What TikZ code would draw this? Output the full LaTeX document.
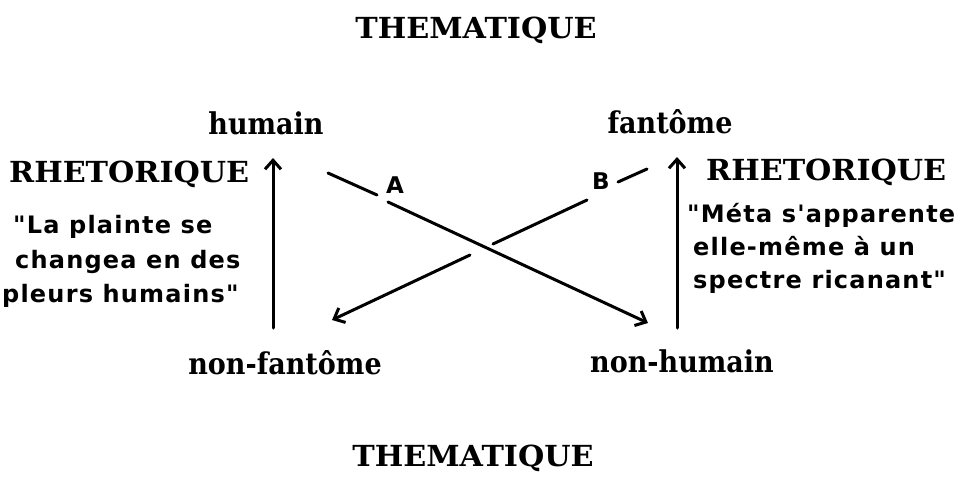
\documentclass[tikz,border=0pt]{standalone}
\usepackage{fontspec}
\setmainfont{DejaVu Serif}
\newfontfamily\capsfont[FakeStretch=1.04]{DejaVu Serif Bold}
\newfontfamily\lowfont[FakeStretch=0.9]{DejaVu Serif Bold}
\newfontfamily\quotefont[LetterSpace=5]{DejaVu Sans Bold}
\usetikzlibrary{arrows.meta,calc}
\begin{document}
\begin{tikzpicture}[x=1pt,y=-1pt,
  titletxt/.style={font=\capsfont\fontsize{29}{34}\selectfont, inner sep=0pt, anchor=base},
  poletxt/.style={font=\lowfont\fontsize{30}{34}\selectfont, inner sep=0pt, anchor=base},
  quotetxt/.style={font=\quotefont\fontsize{24}{30}\selectfont, inner sep=0pt, anchor=base west},
  lettertxt/.style={font=\quotefont\fontsize{23}{30}\selectfont, inner sep=0pt},
  conn/.style={line width=3pt, line cap=round},
  arr/.style={conn, -{Straight Barb[length=9pt,width=16pt,line width=3pt]}},
]
\useasboundingbox (0,0) rectangle (963,477);
% titles
\node[titletxt] (t1) at (476,38) {THEMATIQUE};
\node[titletxt] (t2) at (473,466) {THEMATIQUE};
% poles
\node[poletxt] (hum) at (266,134) {humain};
\node[poletxt] (fan) at (670,133) {fantôme};
\node[poletxt] (nfan) at (285,374) {non-fantôme};
\node[poletxt] (nhum) at (682,372) {non-humain};
% rhetorique labels
\node[titletxt, anchor=base west] (rl) at (9,182) {RHETORIQUE};
\node[titletxt, anchor=base west] (rr) at (706,180) {RHETORIQUE};
% quotes left
\node[quotetxt] (ql1) at (13,233) {"La plainte se};
\node[quotetxt] (ql2) at (15,268) {changea en des};
\node[quotetxt] (ql3) at (2,302) {pleurs humains"};
% quotes right
\node[quotetxt] (qr1) at (687,222) {"Méta s'apparente};
\node[quotetxt] (qr2) at (693,255) {elle-même à un};
\node[quotetxt] (qr3) at (693,288) {spectre ricanant"};
% vertical arrows
\coordinate (l0) at (273,328);
\coordinate (l1) at (273,158);
\coordinate (r0) at (677,328);
\coordinate (r1) at (677,157);
\draw[arr] (l0) -- (l1);
\draw[arr] (r0) -- (r1);
% crossing lines
\node[lettertxt] (la) at (395,185) {A};
\node[lettertxt] (lb) at (601,181) {B};
\coordinate (a0) at (328,173);
\coordinate (a1) at (377,195);
\coordinate (a2) at (388,202);
\coordinate (a3) at (648,323);
\draw[conn] (a0) -- (a1);
\draw[arr] (a2) -- (a3);
\coordinate (b0) at (647,169);
\coordinate (b1) at (618,182);
\coordinate (b2) at (587,200);
\coordinate (b3) at (493,244);
\coordinate (b4) at (470,255);
\coordinate (b5) at (332,320);
\draw[conn] (b0) -- (b1);
\draw[conn] (b2) -- (b3);
\draw[arr] (b4) -- (b5);
\end{tikzpicture}
\end{document}
